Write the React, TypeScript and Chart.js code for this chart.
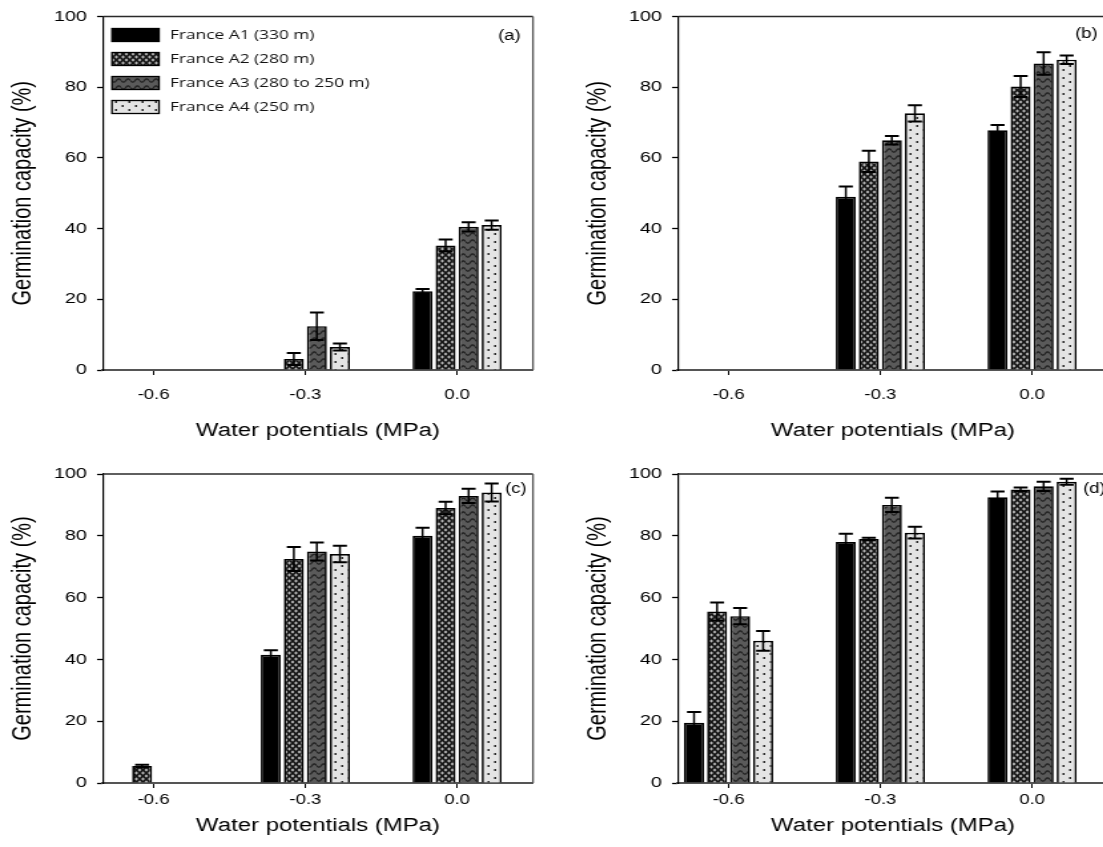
import { useEffect, useRef } from 'react';
import { Chart, registerables } from 'chart.js';

Chart.register(...registerables);

// Water potentials tested (MPa) and the four seed populations
const waterPotentials = [-0.6, -0.3, 0.0];
const populations = ['France A1 (330 m)', 'France A2 (280 m)', 'France A3 (280 to 250 m)', 'France A4 (250 m)'];
const yTicks = [0, 20, 40, 60, 80, 100];

// Germination capacity (%) — one row per population (A1..A4), one column per water potential
const meanA = [[0, 0, 22.3], [0, 3.1, 35.2], [0, 12.4, 40.5], [0, 6.5, 41]];
const errA = [[0, 0, 0.6], [0, 1.7, 1.7], [0, 3.9, 1.3], [0, 1.0, 1.3]];

const meanB = [[0, 49, 67.8], [0, 59, 80.2], [0, 65, 86.7], [0, 72.6, 87.8]];
const errB = [[0, 2.9, 1.5], [0, 3.0, 3.0], [0, 1.2, 3.2], [0, 2.3, 1.2]];

const meanC = [[0, 41.5, 80], [5.5, 72.5, 89], [0, 74.9, 92.9], [0, 74.1, 94]];
const errC = [[0, 1.5, 2.6], [0.4, 3.9, 2.0], [0, 2.9, 2.3], [0, 2.7, 2.9]];

const meanD = [[19.5, 78, 92.5], [55.5, 79, 95], [54, 90, 96], [46, 81, 97.5]];
const errD = [[3.5, 2.7, 1.8], [2.9, 0.4, 0.6], [2.6, 2.3, 1.5], [3.2, 1.9, 1.0]];

const AXIS_FONT = '"Liberation Sans", Arial, sans-serif';
const KEY_FONT = '"Open Sans", "Liberation Sans", sans-serif';

// Each panel is rendered on a narrower backing canvas and widened with CSS,
// giving the horizontally stretched look of the exported figure.
const PANEL_W = 560;
const CANVAS_W = 421;
const S = PANEL_W / CANVAS_W;
const h = (v: number) => v / S;

type Kind = 'solid' | 'cross' | 'wave' | 'dots';
const fillKinds: Kind[] = ['solid', 'cross', 'wave', 'dots'];

function makeFill(ctx: CanvasRenderingContext2D, kind: Kind): string | CanvasPattern {
  if (kind === 'solid') return '#000000';
  const c = document.createElement('canvas');
  const g = c.getContext('2d')!;
  if (kind === 'cross') {
    c.width = 5; c.height = 6;
    g.fillStyle = '#151515';
    g.fillRect(0, 0, 5, 6);
    g.fillStyle = '#b8b8b8';
    for (const [cx, cy] of [[2.5, 3], [0, 0], [5, 0], [0, 6], [5, 6]]) {
      g.beginPath();
      g.moveTo(cx, cy - 1.8); g.lineTo(cx + 1.3, cy); g.lineTo(cx, cy + 1.8); g.lineTo(cx - 1.3, cy);
      g.closePath();
      g.fill();
    }
  } else if (kind === 'wave') {
    c.width = 7; c.height = 7;
    g.fillStyle = '#5a5a5a';
    g.fillRect(0, 0, 7, 7);
    g.strokeStyle = '#222';
    g.lineWidth = 1.3;
    g.beginPath();
    for (let x = 0; x <= 7; x += 0.25) {
      const y = 3.5 + 1.6 * Math.sin((2 * Math.PI * x) / 7);
      if (x === 0) g.moveTo(x, y); else g.lineTo(x, y);
    }
    g.stroke();
  } else {
    c.width = 10; c.height = 8;
    g.fillStyle = '#e4e4e4';
    g.fillRect(0, 0, 10, 8);
    g.fillStyle = '#2a2a2a';
    g.fillRect(1.5, 1, 1.5, 2);
    g.fillRect(6.5, 5, 1.5, 2);
  }
  return ctx.createPattern(c, 'repeat')!;
}

const errorBarPlugin = {
  id: 'errorBars',
  afterDatasetsDraw(chart: any) {
    const { ctx } = chart;
    const yScale = chart.scales.y;
    const half = h(7);
    chart.data.datasets.forEach((ds: any, i: number) => {
      const meta = chart.getDatasetMeta(i);
      meta.data.forEach((bar: any, j: number) => {
        const v = ds.data[j].y;
        const e = ds.errors[j];
        if (!v) return;
        const hi = yScale.getPixelForValue(v + e);
        const lo = yScale.getPixelForValue(v - e);
        ctx.save();
        ctx.strokeStyle = '#000';
        ctx.lineWidth = 1.5;
        ctx.beginPath();
        ctx.moveTo(bar.x, lo); ctx.lineTo(bar.x, hi);
        ctx.stroke();
        ctx.lineWidth = 2;
        ctx.beginPath();
        ctx.moveTo(bar.x - half, hi); ctx.lineTo(bar.x + half, hi);
        ctx.moveTo(bar.x - half, lo); ctx.lineTo(bar.x + half, lo);
        ctx.stroke();
        ctx.restore();
      });
    });
  },
};

const framePlugin = {
  id: 'frame',
  afterDraw(chart: any) {
    const { ctx, chartArea: a } = chart;
    ctx.save();
    ctx.strokeStyle = '#2a2a2a';
    ctx.lineWidth = 1.5;
    ctx.beginPath();
    ctx.moveTo(a.left, a.top);
    ctx.lineTo(a.right, a.top);
    ctx.stroke();
    ctx.strokeStyle = '#555';
    ctx.lineWidth = 1.3;
    ctx.beginPath();
    ctx.moveTo(a.right, a.top);
    ctx.lineTo(a.right, a.bottom);
    ctx.stroke();
    ctx.restore();
  },
};

const tagPlugin = {
  id: 'panelTag',
  afterDraw(chart: any, _args: any, opts: any) {
    const { ctx } = chart;
    ctx.save();
    ctx.fillStyle = '#000';
    ctx.font = `14px ${AXIS_FONT}`;
    ctx.textAlign = 'left';
    ctx.textBaseline = 'middle';
    ctx.fillText(opts.text, opts.x, opts.y);
    ctx.restore();
  },
};

const keyPlugin = {
  id: 'seriesKey',
  afterDraw(chart: any, _args: any, opts: any) {
    if (!opts.show) return;
    const { ctx } = chart;
    ctx.save();
    chart.data.datasets.forEach((ds: any, i: number) => {
      const y = opts.y + i * 24;
      ctx.fillStyle = ds.backgroundColor;
      ctx.fillRect(opts.x, y - 6.5, opts.w, 13);
      ctx.strokeStyle = '#000';
      ctx.lineWidth = 1.3;
      ctx.strokeRect(opts.x, y - 6.5, opts.w, 13);
      ctx.fillStyle = '#111';
      ctx.font = `13px ${KEY_FONT}`;
      ctx.textAlign = 'left';
      ctx.textBaseline = 'middle';
      ctx.fillText(ds.label, opts.textX, y);
    });
    ctx.restore();
  },
};

type PanelCfg = {
  tag: string;
  means: number[][];
  errs: number[][];
  left: number;
  top: number;
  height: number;
  padTop: number;
  xAxisHeight: number;
  tickPad: number;
  titlePad: number;
  tagX: number;
  tagY: number;
  key: boolean;
};

function Panel({ cfg }: { cfg: PanelCfg }) {
  const ref = useRef<HTMLCanvasElement>(null);
  useEffect(() => {
    const canvas = ref.current!;
    const ctx = canvas.getContext('2d')!;
    const datasets = populations.map((label, s) => ({
      label,
      data: waterPotentials.map((x, k) => ({ x, y: cfg.means[s][k] })),
      errors: cfg.errs[s],
      backgroundColor: makeFill(ctx, fillKinds[s]),
      borderColor: '#000',
      borderWidth: 1.7,
      categoryPercentage: 0.607,
      barPercentage: 0.87,
    }));
    const chart = new Chart(canvas, {
      type: 'bar',
      data: { datasets } as any,
      plugins: [errorBarPlugin, framePlugin, tagPlugin, keyPlugin],
      options: {
        animation: false,
        responsive: false,
        maintainAspectRatio: false,
        devicePixelRatio: 1,
        layout: { padding: { top: cfg.padTop, right: CANVAS_W - h(533), left: 0, bottom: 0 } },
        plugins: {
          legend: { display: false },
          tooltip: { enabled: false },
          panelTag: { text: cfg.tag, x: h(cfg.tagX), y: cfg.tagY },
          seriesKey: { show: cfg.key, x: h(112), w: h(47), textX: h(170), y: 35 },
        } as any,
        scales: {
          x: {
            type: 'linear',
            min: -0.7,
            max: 0.15,
            offset: false,
            afterBuildTicks: (scale: any) => {
              scale.ticks = waterPotentials.map((value) => ({ value }));
            },
            afterFit: (scale: any) => {
              scale.height = cfg.xAxisHeight;
            },
            grid: { display: true, drawOnChartArea: false, drawTicks: true, tickLength: 5, tickColor: '#000', tickWidth: 1, offset: false },
            border: { display: true, color: '#555', width: 2 },
            ticks: {
              padding: cfg.tickPad,
              color: '#000',
              font: { family: AXIS_FONT, size: 14 },
              callback: (v: any) => Number(v).toFixed(1),
              maxRotation: 0,
            },
            title: {
              display: true,
              text: 'Water potentials (MPa)',
              color: '#000',
              font: { family: AXIS_FONT, size: 18 },
              padding: { top: 0, bottom: cfg.titlePad },
            },
          },
          y: {
            type: 'linear',
            min: 0,
            max: 100,
            afterBuildTicks: (scale: any) => {
              scale.ticks = yTicks.map((value) => ({ value }));
            },
            afterFit: (scale: any) => {
              scale.width = h(103);
            },
            grid: { display: true, drawOnChartArea: false, drawTicks: true, tickLength: h(6), tickColor: '#000', tickWidth: 1.3 },
            border: { display: true, color: '#000', width: 1.2 },
            ticks: {
              padding: h(10),
              color: '#000',
              font: { family: AXIS_FONT, size: 15 },
            },
            title: {
              display: true,
              text: 'Germination capacity (%)',
              color: '#000',
              font: { family: AXIS_FONT, size: 20 },
              padding: { top: 5.3, bottom: 0 },
            },
          },
        },
      } as any,
    });
    return () => chart.destroy();
  }, [cfg]);
  return (
    <canvas
      ref={ref}
      width={CANVAS_W}
      height={cfg.height}
      style={{ position: 'absolute', left: cfg.left, top: cfg.top, width: PANEL_W, height: cfg.height }}
    />
  );
}

const panels: PanelCfg[] = [
  { tag: '(a)', means: meanA, errs: errA, left: 0, top: 0, height: 460, padTop: 15, xAxisHeight: 90, tickPad: 12, titlePad: 18, tagX: 498, tagY: 36, key: true },
  { tag: '(b)', means: meanB, errs: errB, left: 575, top: 0, height: 460, padTop: 15, xAxisHeight: 90, tickPad: 12, titlePad: 18, tagX: 500, tagY: 34, key: false },
  { tag: '(c)', means: meanC, errs: errC, left: 0, top: 440, height: 407, padTop: 34, xAxisHeight: 64, tickPad: 4, titlePad: 10, tagX: 505, tagY: 49, key: false },
  { tag: '(d)', means: meanD, errs: errD, left: 575, top: 440, height: 407, padTop: 34, xAxisHeight: 64, tickPad: 4, titlePad: 10, tagX: 508, tagY: 49, key: false },
];

export default function App() {
  return (
    <div style={{ position: 'absolute', left: 0, top: 0, width: 1103, height: 847, overflow: 'hidden', background: '#fff' }}>
      {panels.map((p) => (
        <Panel key={p.tag} cfg={p} />
      ))}
    </div>
  );
}
